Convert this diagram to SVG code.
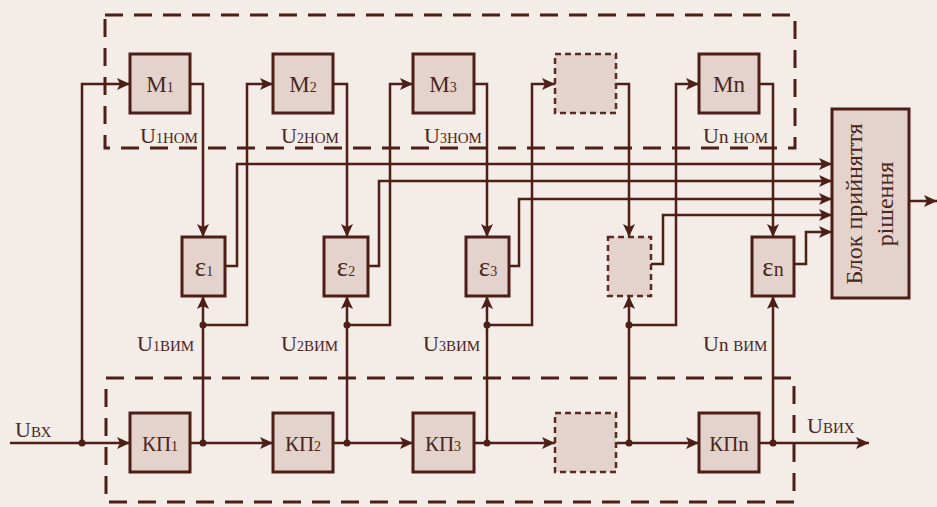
<svg xmlns="http://www.w3.org/2000/svg" width="937" height="507" viewBox="0 0 937 507">
<style>
.bg{fill:#f3ece7}
.box{fill:#e3d3cc;stroke:#4d1f17;stroke-width:3}
.dbox{fill:#e3d3cc;stroke:#5a2a20;stroke-width:2.5;stroke-dasharray:6 4}
.frame{fill:none;stroke:#4d1f17;stroke-width:3;stroke-dasharray:18 11}
.w{fill:none;stroke:#4d1f17;stroke-width:2.5;stroke-linejoin:miter}
.a{marker-end:url(#ah)}
.dot{fill:#4d1f17}
text{font-family:"Liberation Serif","Times New Roman",serif;fill:#4a2620}
.big{font-size:23px}
.kp{font-size:21px}
.lbl{font-size:22px}
.d{font-size:14px}
.sc{font-variant:small-caps}
.eps{font-size:27px}
.blk{font-size:24px}
</style>
<defs>
<marker id="ah" markerUnits="userSpaceOnUse" markerWidth="14" markerHeight="12" refX="13" refY="6" orient="auto">
<path d="M0,0 L13,6 L0,12 L3,6 z" fill="#4d1f17"/>
</marker>
</defs>
<rect class="bg" x="0" y="0" width="937" height="507"/>

<g id="frame-top"><rect class="frame" x="105" y="15" width="690" height="133"/></g>
<g id="frame-bottom"><rect class="frame" x="106" y="378" width="688" height="124"/></g>

<g id="connectors">
<path class="w a" d="M10,443 H130"/>
<path class="w a" d="M190,443 H273"/>
<path class="w a" d="M333,443 H413"/>
<path class="w a" d="M474,443 H555"/>
<path class="w a" d="M616,443 H699"/>
<path class="w a" d="M759,443 H869"/>
<path class="w a" d="M82,443 V84 H130"/>
<path class="w a" d="M203,325 H247 V84 H273"/>
<path class="w a" d="M347,325 H390 V84 H413"/>
<path class="w a" d="M487,325 H532 V84 H555"/>
<path class="w a" d="M629,325 H676 V84 H699"/>
<path class="w a" d="M190,84 H203 V237"/>
<path class="w a" d="M333,84 H347 V237"/>
<path class="w a" d="M474,84 H487 V237"/>
<path class="w a" d="M616,84 H629 V237"/>
<path class="w a" d="M759,84 H773 V237"/>
<path class="w a" d="M203,443 V296"/>
<path class="w a" d="M347,443 V296"/>
<path class="w a" d="M487,443 V296"/>
<path class="w a" d="M629,443 V296"/>
<path class="w a" d="M773,443 V296"/>
<path class="w a" d="M225,266 H237 V164 H832"/>
<path class="w a" d="M368,266 H379 V181 H832"/>
<path class="w a" d="M509,266 H519 V199 H832"/>
<path class="w a" d="M651,264 H663 V215 H832"/>
<path class="w a" d="M794,264 H806 V232 H832"/>
<path class="w a" d="M909,201 H937"/>
<circle class="dot" cx="82" cy="443" r="3.5"/>
<circle class="dot" cx="203" cy="443" r="3.5"/>
<circle class="dot" cx="347" cy="443" r="3.5"/>
<circle class="dot" cx="487" cy="443" r="3.5"/>
<circle class="dot" cx="629" cy="443" r="3.5"/>
<circle class="dot" cx="773" cy="443" r="3.5"/>
<circle class="dot" cx="203" cy="325" r="3.5"/>
<circle class="dot" cx="347" cy="325" r="3.5"/>
<circle class="dot" cx="487" cy="325" r="3.5"/>
<circle class="dot" cx="629" cy="325" r="3.5"/>
</g>

<g id="M1"><rect class="box" x="130" y="54" width="60" height="59"/><text class="big" x="160" y="92" text-anchor="middle">M<tspan class="d">1</tspan></text></g>
<g id="M2"><rect class="box" x="273" y="54" width="60" height="59"/><text class="big" x="303" y="92" text-anchor="middle">M<tspan class="d">2</tspan></text></g>
<g id="M3"><rect class="box" x="413" y="54" width="61" height="59"/><text class="big" x="443" y="92" text-anchor="middle">M<tspan class="d">3</tspan></text></g>
<g id="M4"><rect class="dbox" x="555" y="54" width="61" height="59"/></g>
<g id="Mn"><rect class="box" x="699" y="54" width="60" height="59"/><text class="big" x="729" y="92" text-anchor="middle">Mn</text></g>

<g id="E1"><rect class="box" x="182" y="237" width="43" height="59"/><text class="eps" x="204" y="276" text-anchor="middle">ε<tspan class="d">1</tspan></text></g>
<g id="E2"><rect class="box" x="324" y="237" width="44" height="59"/><text class="eps" x="346" y="276" text-anchor="middle">ε<tspan class="d">2</tspan></text></g>
<g id="E3"><rect class="box" x="466" y="237" width="43" height="59"/><text class="eps" x="488" y="276" text-anchor="middle">ε<tspan class="d">3</tspan></text></g>
<g id="E4"><rect class="dbox" x="608" y="237" width="43" height="59"/></g>
<g id="En"><rect class="box" x="752" y="237" width="42" height="59"/><text class="eps" x="773" y="276" text-anchor="middle">ε<tspan style="font-size:20px">n</tspan></text></g>

<g id="KP1"><rect class="box" x="130" y="413" width="60" height="59"/><text class="kp" x="160" y="451" text-anchor="middle">КП<tspan class="d">1</tspan></text></g>
<g id="KP2"><rect class="box" x="273" y="413" width="60" height="59"/><text class="kp" x="303" y="451" text-anchor="middle">КП<tspan class="d">2</tspan></text></g>
<g id="KP3"><rect class="box" x="413" y="413" width="61" height="59"/><text class="kp" x="443" y="451" text-anchor="middle">КП<tspan class="d">3</tspan></text></g>
<g id="KP4"><rect class="dbox" x="555" y="413" width="61" height="59"/></g>
<g id="KPn"><rect class="box" x="699" y="413" width="60" height="59"/><text class="kp" x="729" y="451" text-anchor="middle">КПn</text></g>

<g id="decision"><rect class="box" x="832" y="109" width="77" height="189"/>
<text class="blk" transform="translate(862,204) rotate(-90)" text-anchor="middle">Блок прийняття</text>
<text class="blk" transform="translate(893,204) rotate(-90)" text-anchor="middle">рішення</text></g>

<g id="labels">
<text class="lbl" x="140" y="143">U<tspan class="d">1</tspan><tspan class="sc">ном</tspan></text>
<text class="lbl" x="281" y="143">U<tspan class="d">2</tspan><tspan class="sc">ном</tspan></text>
<text class="lbl" x="424" y="143">U<tspan class="d">3</tspan><tspan class="sc">ном</tspan></text>
<text class="lbl" x="703" y="143">U<tspan style="font-size:19px">n </tspan><tspan class="sc">ном</tspan></text>
<text class="lbl" x="137" y="351">U<tspan class="d">1</tspan><tspan class="sc">вим</tspan></text>
<text class="lbl" x="281" y="351">U<tspan class="d">2</tspan><tspan class="sc">вим</tspan></text>
<text class="lbl" x="423" y="351">U<tspan class="d">3</tspan><tspan class="sc">вим</tspan></text>
<text class="lbl" x="703" y="351">U<tspan style="font-size:19px">n </tspan><tspan class="sc">вим</tspan></text>
<text class="lbl" x="15" y="437">U<tspan class="sc">вх</tspan></text>
<text class="lbl" x="807" y="433">U<tspan class="sc">вих</tspan></text>
</g>
</svg>
